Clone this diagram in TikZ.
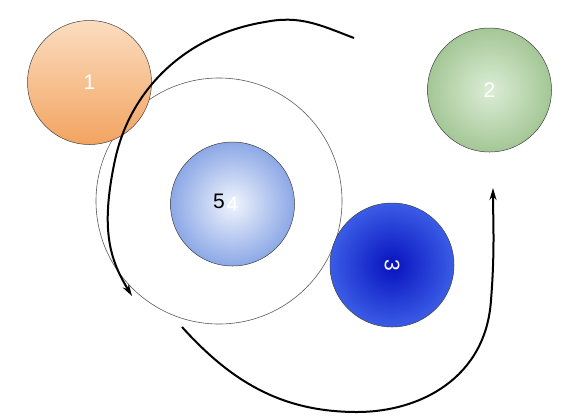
\documentclass[tikz,border=0pt]{standalone}
\usepackage{fontspec}
\setmainfont{Liberation Sans}
\usetikzlibrary{arrows.meta}
\definecolor{orangeTop}{HTML}{FBDDC0}
\definecolor{orangeBot}{HTML}{F2A460}
\definecolor{greenIn}{HTML}{DCEDD6}
\definecolor{greenOut}{HTML}{A4C796}
\definecolor{blueIn}{HTML}{0812BE}
\definecolor{blueOut}{HTML}{3A5CE6}
\definecolor{paleIn}{HTML}{F0F4FD}
\definecolor{paleOut}{HTML}{8CA8E6}
\begin{document}
\begin{tikzpicture}[x=1pt,y=-1pt,
   ball/.style={circle,draw=black!75,line width=.5pt,minimum size=124pt,inner sep=0pt,
     text=white,font=\fontsize{21}{24}\selectfont},
   ring/.style={circle,draw=black!65,line width=.6pt,minimum size=246pt,inner sep=0pt,
     font=\fontsize{21}{24}\selectfont},
   flow/.style={line width=2pt,-{Stealth[length=12pt,width=7pt]}}]
   \useasboundingbox (0,0) rectangle (577,416);
   \node[ball,inner color=paleIn,outer color=paleOut] (n4) at (232.5,204) {4};
   \node[ring] (n5) at (219,201) {5};
   \node[ball,top color=orangeTop,bottom color=orangeBot] (n1) at (89.5,82.5) {1};
   \node[ball,inner color=greenIn,outer color=greenOut] (n2) at (489.5,90) {2};
   \node[ball,inner color=blueIn,outer color=blueOut,rotate=-90] (n3) at (392,265) {3};
   % arrows
   \coordinate (a1) at (354,38);
   \coordinate (a2) at (265,22);
   \coordinate (a3) at (115,160);
   \coordinate (a4) at (132,296);
   \draw[flow] (a1) .. controls (320,25) and (300,15) .. (a2)
      .. controls (185,35) and (130,90) .. (a3)
      .. controls (100,230) and (110,260) .. (a4);
   \coordinate (b1) at (182,327);
   \coordinate (b2) at (357,412);
   \coordinate (b3) at (491,300);
   \coordinate (b4) at (493,188);
   \draw[flow] (b1) .. controls (230,380) and (280,412) .. (b2)
      .. controls (420,412) and (486,378) .. (b3)
      .. controls (495,250) and (493,220) .. (b4);
\end{tikzpicture}
\end{document}
